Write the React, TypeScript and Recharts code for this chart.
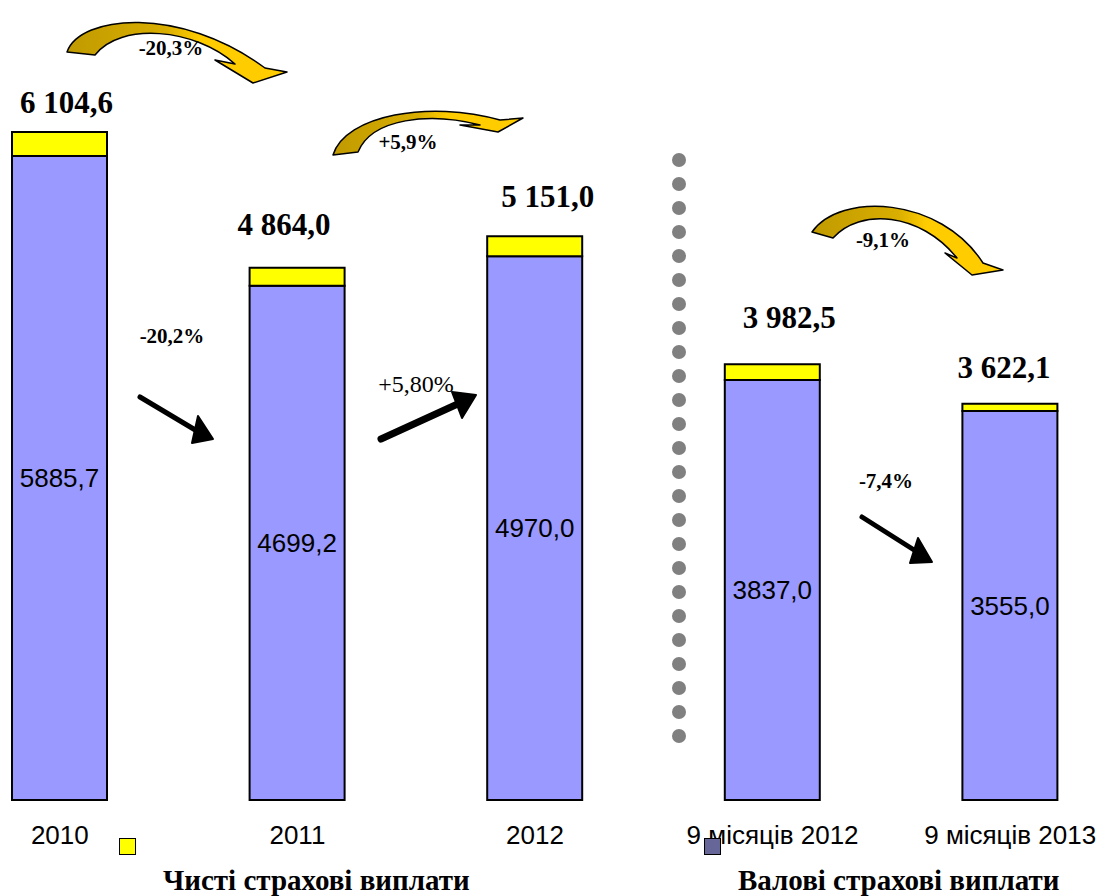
import React from 'react';
import { BarChart, Bar, XAxis, YAxis, LabelList } from 'recharts';

const CATEGORIES = ['2010', '2011', '2012', '9 місяців 2012', '9 місяців 2013'];
const GROSS = [5885.7, 4699.2, 4970.0, 3837.0, 3555.0];
const TOTAL = [6104.6, 4864.0, 5151.0, 3982.5, 3622.1];

// hand-placed total labels in the original: shift from the bar top centre
const TOTAL_LABEL_DX = [7, -13, 13, 17, -6];
const TOTAL_LABEL_GAP = [19, 33, 29, 36, 26];

const SERIF = '"Liberation Serif", "Times New Roman", serif';
const SANS = '"Liberation Sans", Arial, sans-serif';

const data = CATEGORIES.map((name, i) => ({
  name,
  gross: GROSS[i],
  net: Math.round((TOTAL[i] - GROSS[i]) * 10) / 10,
  total: TOTAL[i],
}));

const fmtTotal = (v: any) => {
  const [int, dec] = Number(v).toFixed(1).split('.');
  return `${int.replace(/\B(?=(\d{3})+(?!\d))/g, ' ')},${dec}`;
};
const fmtInner = (v: any) => Number(v).toFixed(1).replace('.', ',');

const TotalLabel = (props: any) => {
  const { x, y, width, value, index } = props;
  return (
    <text
      x={Number(x) + Number(width) / 2 + TOTAL_LABEL_DX[index]}
      y={Number(y) - TOTAL_LABEL_GAP[index]}
      textAnchor="middle"
      fontFamily={SERIF}
      fontWeight="bold"
      fontSize={31}
      fill="#000"
    >
      {fmtTotal(value)}
    </text>
  );
};

const dots = Array.from({ length: 25 }, (_, i) => 160 + i * 24);

const Overlay = () => (
  <svg width={1100} height={896} style={{ position: 'absolute', left: 0, top: 0, pointerEvents: 'none' }}>
    <defs>
      <linearGradient id="gold" x1="0" y1="0" x2="1" y2="0">
        <stop offset="0" stopColor="#C09A00" />
        <stop offset="0.45" stopColor="#D9AE00" />
        <stop offset="0.6" stopColor="#FFCC00" />
        <stop offset="1" stopColor="#FFCC00" />
      </linearGradient>
    </defs>
    {/* curved arrows */}
    <path d="M67,52 C80,15 180,5 265,68 L287,72 L253,83 L215,60 L235,64 C195,28 120,22 95,55 Z"
      fill="url(#gold)" stroke="#000" strokeWidth={1.5} strokeLinejoin="round" />
    <path d="M333,155 C345,115 430,100 500,120 L523,118 L498,132 L460,125 L480,125 C430,112 372,118 358,152 Z"
      fill="url(#gold)" stroke="#000" strokeWidth={1.5} strokeLinejoin="round" />
    <path d="M812,232 C840,192 940,196 983,263 L1003,270 L972,275 L945,253 L957,258 C920,212 860,208 833,238 Z"
      fill="url(#gold)" stroke="#000" strokeWidth={1.5} strokeLinejoin="round" />
    <g fontFamily={SERIF} fontWeight="bold" fontSize={21} textAnchor="middle" fill="#000">
      <text x={171} y={55}>-20,3%</text>
      <text x={408} y={149}>+5,9%</text>
      <text x={883} y={247}>-9,1%</text>
      <text x={172} y={343}>-20,2%</text>
      <text x={886} y={488}>-7,4%</text>
    </g>
    <text x={416} y={392} fontFamily={SERIF} fontSize={24} textAnchor="middle" fill="#000">+5,80%</text>
    {/* straight arrows */}
    <line x1={140} y1={397} x2={202} y2={434} stroke="#000" strokeWidth={5} strokeLinecap="round" />
    <polygon points="198,416 213,439 192,443" fill="#000" stroke="#000" strokeWidth={2} strokeLinejoin="round" />
    <line x1={381} y1={439} x2={462} y2={402} stroke="#000" strokeWidth={7} strokeLinecap="round" />
    <polygon points="452,392 476,395 462,418" fill="#000" stroke="#000" strokeWidth={2} strokeLinejoin="round" />
    <line x1={862} y1={517} x2={922} y2={555} stroke="#000" strokeWidth={5} strokeLinecap="round" />
    <polygon points="918,538 932,562 910,563" fill="#000" stroke="#000" strokeWidth={2} strokeLinejoin="round" />
    {/* dotted separator */}
    {dots.map((y) => (
      <circle key={y} cx={679} cy={y} r={7} fill="#808080" />
    ))}
  </svg>
);

const LegendBox = () => (
  <div style={{ position: 'absolute', left: 0, top: 0, width: 1100, height: 896, pointerEvents: 'none' }}>
    <div style={{ position: 'absolute', left: 119, top: 838, width: 15, height: 15, background: '#FFFF00', border: '1.5px solid #000' }} />
    <div style={{ position: 'absolute', left: 163, top: 865, fontFamily: SERIF, fontWeight: 'bold', fontSize: 29, lineHeight: '30px', whiteSpace: 'nowrap' }}>
      Чисті страхові виплати
    </div>
    <div style={{ position: 'absolute', left: 704, top: 838, width: 15, height: 15, background: '#666699', border: '1.5px solid #000' }} />
    <div style={{ position: 'absolute', left: 738, top: 865, fontFamily: SERIF, fontWeight: 'bold', fontSize: 29, lineHeight: '30px', whiteSpace: 'nowrap' }}>
      Валові страхові виплати
    </div>
  </div>
);

export default function App() {
  return (
    <div style={{ position: 'absolute', left: 0, top: 0, width: 1100, height: 896, overflow: 'hidden', background: '#fff' }}>
      <div style={{ marginLeft: -59 }}>
        <BarChart width={1188} height={896} data={data} margin={{ top: 34, right: 0, bottom: 66, left: 0 }} barSize={95}>
          <XAxis
            dataKey="name"
            axisLine={false}
            tickLine={false}
            height={30}
            tickMargin={20}
            interval={0}
            tick={{ fill: '#000', fontSize: 26, fontFamily: SANS }}
          />
          <YAxis hide domain={[0, 7000]} />
          <Bar dataKey="gross" stackId="a" fill="#9999FF" stroke="#000" strokeWidth={2} isAnimationActive={false}>
            <LabelList dataKey="gross" position="center" formatter={fmtInner} fill="#000" fontSize={26} fontFamily={SANS} />
          </Bar>
          <Bar dataKey="net" stackId="a" fill="#FFFF00" stroke="#000" strokeWidth={2} isAnimationActive={false}>
            <LabelList dataKey="total" content={<TotalLabel />} />
          </Bar>
        </BarChart>
      </div>
      <Overlay />
      <LegendBox />
    </div>
  );
}
